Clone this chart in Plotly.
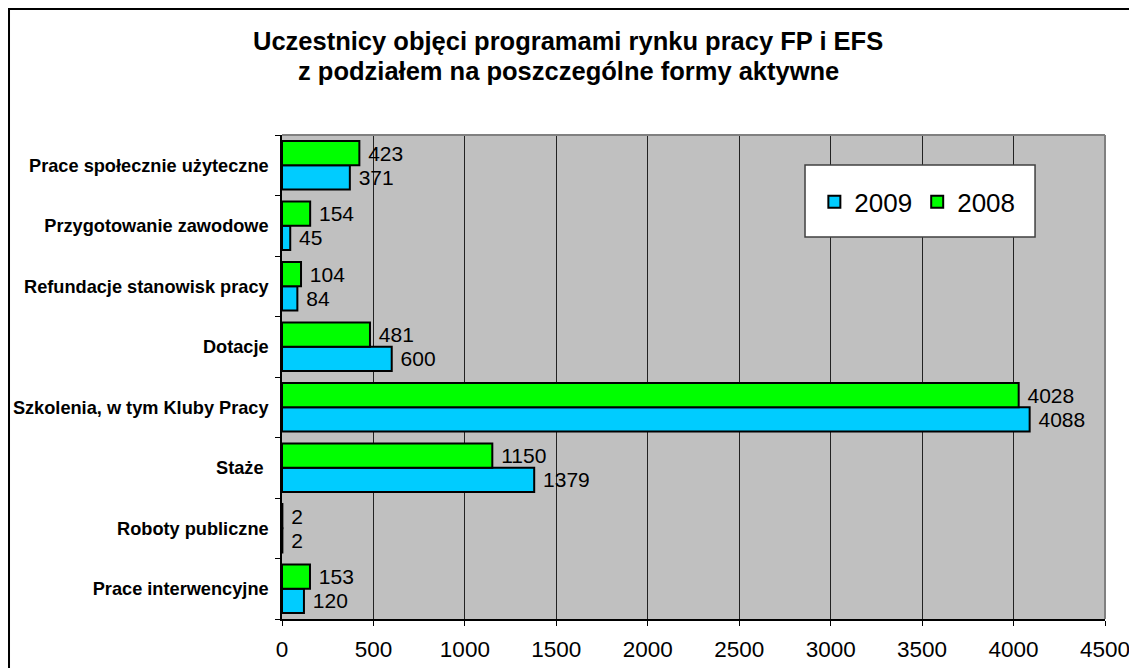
import plotly.graph_objects as go

kategorie = ["Prace interwencyjne", "Roboty publiczne", "Staże ", "Szkolenia, w tym Kluby Pracy",
             "Dotacje", "Refundacje stanowisk pracy", "Przygotowanie zawodowe",
             "Prace społecznie użyteczne"]
rok_2009 = [120, 2, 1379, 4088, 600, 84, 45, 371]
rok_2008 = [153, 2, 1150, 4028, 481, 104, 154, 423]

FONT = "Arial, Liberation Sans, sans-serif"

fig = go.Figure()
fig.add_bar(y=kategorie, x=rok_2009, orientation="h", name="2009",
            marker=dict(color="#00CCFF", line=dict(color="black", width=2)),
            texttemplate="\u00a0%{x}", textposition="outside", cliponaxis=False,
            textfont=dict(size=21, color="black", family=FONT))
fig.add_bar(y=kategorie, x=rok_2008, orientation="h", name="2008",
            marker=dict(color="#00FF00", line=dict(color="black", width=2)),
            texttemplate="\u00a0%{x}", textposition="outside", cliponaxis=False,
            textfont=dict(size=21, color="black", family=FONT))

# strona ma 8px marginesu, więc figura jest o 8px mniejsza
fig.update_layout(
    width=1129, height=660,
    margin=dict(l=274, r=32, t=127, b=49, autoexpand=False),
    paper_bgcolor="white", plot_bgcolor="#C0C0C0",
    font=dict(family=FONT, color="black"),
    barmode="group", bargap=0.2, bargroupgap=0,
    legend=dict(orientation="h", x=0.772, y=0.862, xanchor="center", yanchor="middle",
                bgcolor="rgba(0,0,0,0)", font=dict(size=26, family=FONT),
                itemwidth=30, traceorder="normal"),
    showlegend=True,
    xaxis=dict(range=[0, 4500], dtick=500, showgrid=True, gridcolor="#222222", gridwidth=1,
               showline=True, linecolor="black", linewidth=1.5, ticks="outside", ticklen=5,
               tickcolor="black", tickfont=dict(size=22.5), zeroline=False,
               ticklabelstandoff=4, automargin=False),
    yaxis=dict(showgrid=False, showline=True, linecolor="black", linewidth=1.5,
               ticks="outside", ticklen=5, tickcolor="black", tickson="boundaries",
               tickfont=dict(size=18.2, family=FONT, weight="bold"), ticklabelstandoff=8,
               automargin=False),
    shapes=[
        # obramowanie wykresu
        dict(type="rect", xref="paper", yref="paper", x0=-0.3317, x1=1.0352, y0=-0.2, y1=1.2603,
             line=dict(color="black", width=2), fillcolor="rgba(0,0,0,0)", layer="below"),
        # górna i prawa krawędź obszaru wykresu
        dict(type="line", xref="paper", yref="paper", x0=0, x1=1, y0=1, y1=1,
             line=dict(color="#808080", width=2)),
        dict(type="line", xref="paper", yref="paper", x0=1, x1=1, y0=0, y1=1,
             line=dict(color="#808080", width=2)),
        # ramka legendy
        dict(type="rect", xref="paper", yref="paper", x0=0.6355, x1=0.915, y0=0.789, y1=0.938,
             line=dict(color="#404040", width=1.5), fillcolor="white", layer="above"),
    ],
    annotations=[
        dict(text="<b>Uczestnicy objęci programami rynku pracy FP i EFS</b>", xref="paper",
             yref="paper", x=0.348, y=1.195, xanchor="center", yanchor="middle",
             showarrow=False, font=dict(size=25.5, family=FONT)),
        dict(text="<b>z podziałem na poszczególne formy aktywne</b>", xref="paper",
             yref="paper", x=0.348, y=1.132, xanchor="center", yanchor="middle",
             showarrow=False, font=dict(size=25.5, family=FONT)),
    ],
)

fig.write_html("out.html")
